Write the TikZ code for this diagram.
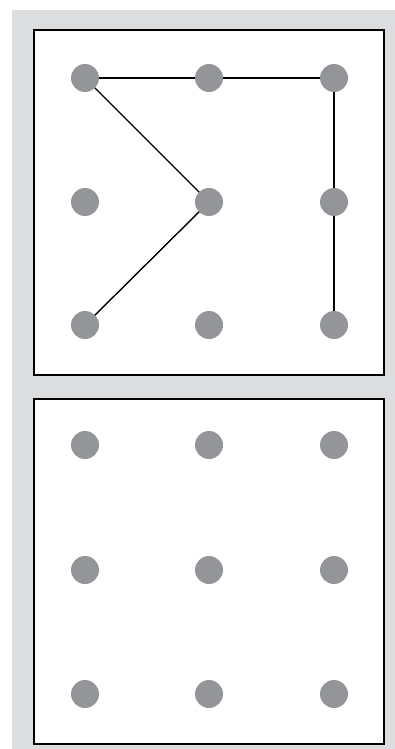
\documentclass[tikz,border=0pt]{standalone}
\definecolor{bggray}{HTML}{DCDDDE}
\definecolor{dotgray}{HTML}{939598}
\tikzset{
  dotnode/.style={circle,fill=dotgray,minimum size=28pt,inner sep=0pt},
  panel/.style={draw=black,line width=1.6pt,fill=white},
  link/.style={line width=1.4pt,draw=black},
}
\begin{document}
\begin{tikzpicture}[x=1pt,y=-1pt]
\useasboundingbox (0,0) rectangle (395,749);
\fill[white] (0,0) rectangle (395,749);
\fill[bggray] (12,10) rectangle (395,749);
\draw[panel] (34,30) rectangle (384,375);
\draw[panel] (34,399) rectangle (384,744);
% top grid coordinates
\foreach \c/\x in {1/85,2/209,3/334}{
  \foreach \r/\y in {1/78,2/202,3/325}{
    \coordinate (t\r\c) at (\x,\y);
  }
  \foreach \r/\y in {1/445,2/570,3/694}{
    \coordinate (b\r\c) at (\x,\y);
  }
}
\draw[link] (t11) -- (t12) -- (t13) -- (t23) -- (t33);
\draw[link] (t11) -- (t22) -- (t31);
\foreach \r in {1,2,3}{
  \foreach \c in {1,2,3}{
    \node[dotnode] (dt\r\c) at (t\r\c) {};
    \node[dotnode] (db\r\c) at (b\r\c) {};
  }
}
\end{tikzpicture}
\end{document}
